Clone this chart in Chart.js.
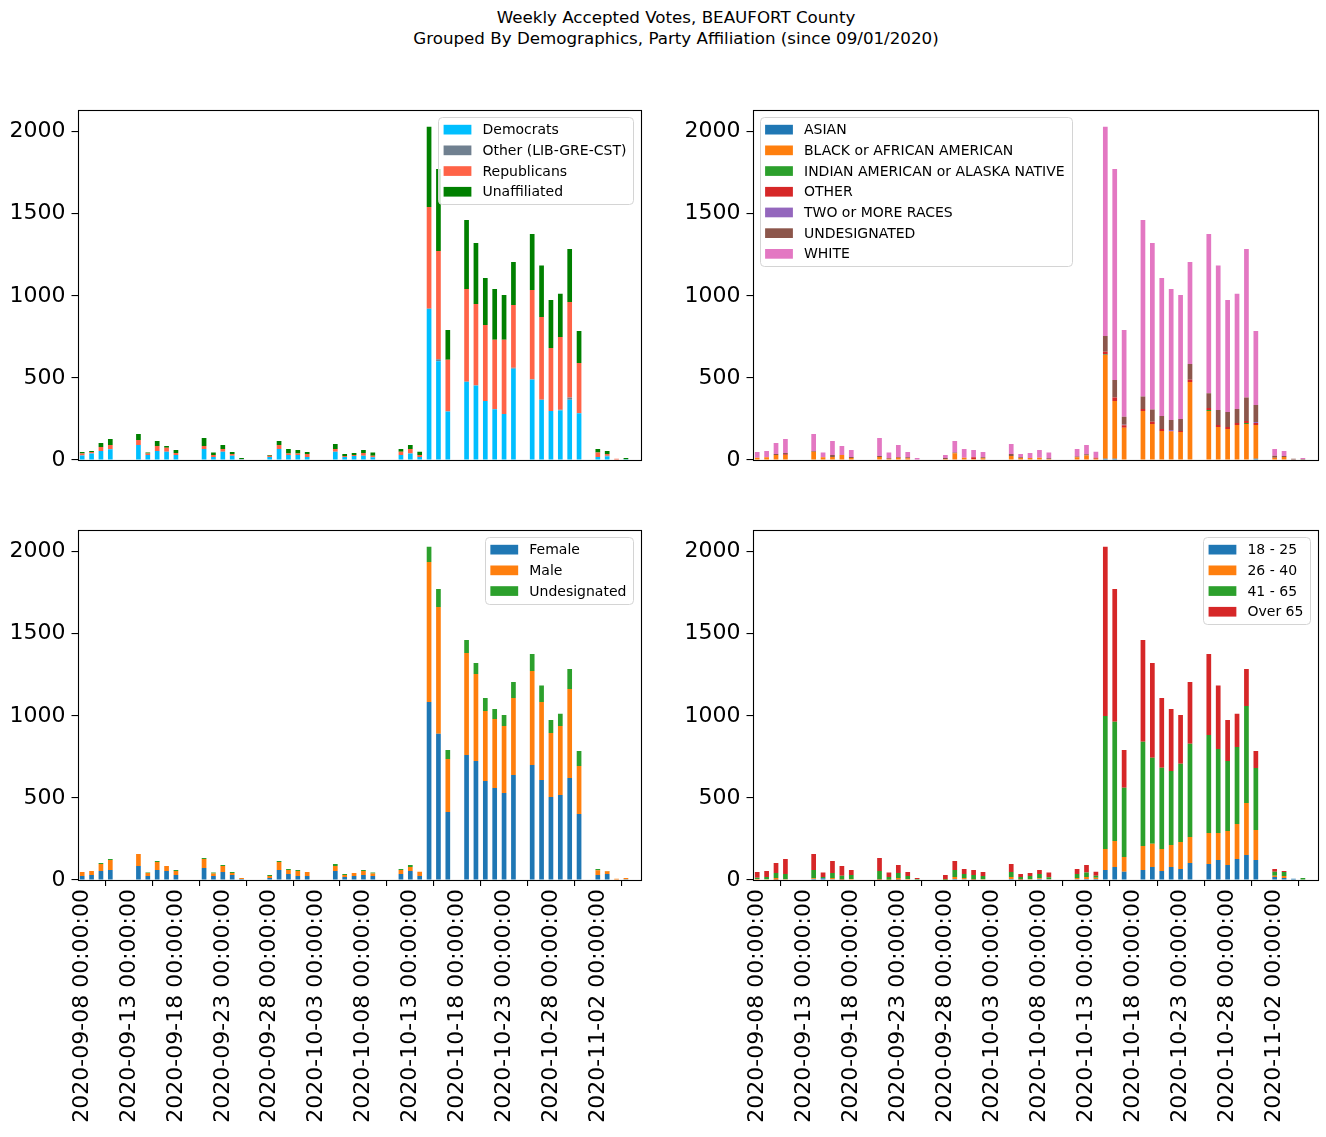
<!DOCTYPE html>
<html>
<head>
<meta charset="utf-8">
<script src="https://cdn.jsdelivr.net/npm/chart.js@4.4.1/dist/chart.umd.min.js"></script>
<style>
  body { margin: 0; background: #fff; }
  #page { position: relative; width: 1326px; height: 1137px; overflow: hidden; font-family: "DejaVu Sans", sans-serif; }
  #title { position: absolute; left: 13px; top: 7px; width: 1326px; text-align: center; font-size: 16.7px; line-height: 21px; color: #000; }
  canvas { position: absolute; }
</style>
</head>
<body>
<div id="page">
  <div id="title">Weekly Accepted Votes, BEAUFORT County<br>Grouped By Demographics, Party Affiliation (since 09/01/2020)</div>
  <canvas id="party" width="650" height="370" style="left:0;top:100px"></canvas>
  <canvas id="race" width="646" height="370" style="left:680px;top:100px"></canvas>
  <canvas id="gender" width="650" height="617" style="left:0;top:520px"></canvas>
  <canvas id="age" width="646" height="617" style="left:680px;top:520px"></canvas>
</div>
<script>
// one category per day, 09-08 .. 11-06
const days = [
  '2020-09-08','2020-09-09','2020-09-10','2020-09-11','2020-09-12','2020-09-13','2020-09-14','2020-09-15','2020-09-16','2020-09-17',
  '2020-09-18','2020-09-19','2020-09-20','2020-09-21','2020-09-22','2020-09-23','2020-09-24','2020-09-25','2020-09-26','2020-09-27',
  '2020-09-28','2020-09-29','2020-09-30','2020-10-01','2020-10-02','2020-10-03','2020-10-04','2020-10-05','2020-10-06','2020-10-07',
  '2020-10-08','2020-10-09','2020-10-10','2020-10-11','2020-10-12','2020-10-13','2020-10-14','2020-10-15','2020-10-16','2020-10-17',
  '2020-10-18','2020-10-19','2020-10-20','2020-10-21','2020-10-22','2020-10-23','2020-10-24','2020-10-25','2020-10-26','2020-10-27',
  '2020-10-28','2020-10-29','2020-10-30','2020-10-31','2020-11-01','2020-11-02','2020-11-03','2020-11-04','2020-11-05','2020-11-06'
];
const yTicks = [0, 500, 1000, 1500, 2000];

// ----- party -----
const democrats = [28,39,55,65,0,0,91,30,55,51, 30,0,0,67,18,51,26,4,0,0, 18,67,30,30,18,0,0,51,18,24,
  26,16,0,0,30,39,18,920,601,296, 0,477,453,359,309,280,556,0,491,367, 298,302,367,284,0,18,22,0,4,0];
const otherParty = [0,0,0,0,0,0,0,0,0,0, 0,0,0,0,0,0,0,0,0,0, 0,0,0,0,0,0,0,0,0,0,
  0,0,0,0,0,0,0,3,12,0, 0,0,0,0,0,0,6,0,0,0, 0,4,13,0,0,0,4,0,0,0];
const republicans = [11,10,24,26,0,0,31,9,30,24, 13,0,0,18,12,16,11,2,0,0, 8,24,9,9,19,0,0,16,6,6,
  17,10,0,0,21,28,12,618,660,315, 0,564,497,463,424,453,382,0,544,504, 384,443,582,307,0,27,11,8,0,0];
const unaffiliated = [10,6,25,37,0,0,36,6,31,10, 18,0,0,49,15,24,12,6,0,0, 4,25,28,22,12,0,0,30,13,13,
  18,19,0,0,16,24,21,489,499,181, 0,421,372,286,308,272,262,0,341,313, 292,264,323,195,0,22,18,0,8,0];

// ----- race -----
const asian = [0,0,0,0,0,0,0,0,0,0, 0,0,0,0,0,0,0,0,0,0, 0,0,0,0,0,0,0,0,0,0,
  0,0,0,0,0,0,0,8,8,0, 0,0,0,0,0,0,0,0,0,0, 0,0,0,8,0,0,0,0,0,0];
const black = [14,16,30,30,0,0,51,16,18,30, 12,0,0,18,8,14,10,0,0,0, 6,41,14,6,10,0,0,24,12,12,
  14,6,0,0,16,28,8,631,351,197, 0,298,219,177,173,171,475,0,298,201, 189,213,219,205,0,14,18,0,0,0];
const indianAm = [0,0,0,0,0,0,0,0,0,0, 0,0,0,0,0,0,0,0,0,0, 0,0,0,0,0,0,0,0,0,0,
  0,0,0,0,0,0,0,4,0,0, 0,0,0,0,0,0,0,0,6,0, 0,0,6,0,0,0,0,0,0,0];
const otherRace = [0,0,0,5,0,0,0,0,0,0, 0,0,0,0,0,0,0,0,0,0, 0,0,0,10,0,0,0,0,0,0,
  0,0,0,0,0,0,6,17,21,14, 0,13,14,12,4,6,14,0,12,12, 12,12,13,12,0,0,0,0,0,0];
const twoRaces = [0,0,0,0,0,0,0,0,0,0, 0,0,0,0,0,0,0,0,0,0, 0,0,0,0,0,0,0,0,0,0,
  0,0,0,0,0,0,0,0,0,4, 0,0,0,0,6,0,0,0,0,0, 0,0,0,6,0,0,0,0,0,0];
const undesRace = [0,0,7,8,0,0,4,0,12,0, 6,0,0,6,4,4,6,0,0,0, 6,4,0,0,6,0,0,13,4,0,
  0,4,0,0,6,7,0,95,107,49, 0,75,74,79,61,73,96,0,91,92, 91,86,142,104,0,12,6,8,6,0];
const white = [35,39,67,85,0,0,103,29,86,55, 43,0,0,110,33,73,33,12,0,0, 18,71,53,45,33,0,0,60,21,31,
  47,35,0,0,45,56,37,1275,1285,528, 0,1076,1015,840,797,755,621,0,969,879, 682,702,905,451,0,41,31,0,6,0];

// ----- gender -----
const female = [24,30,55,61,0,0,85,24,61,55, 30,0,0,73,24,49,30,6,0,0, 12,61,37,24,24,0,0,55,18,24,
  30,24,0,0,37,55,24,1084,891,414, 0,761,725,603,560,530,639,0,700,609, 505,518,621,402,0,30,37,0,4,0];
const male = [25,25,42,61,0,0,73,19,49,30, 25,0,0,55,15,36,13,6,0,0, 12,49,24,31,25,0,0,30,12,19,
  25,15,0,0,24,24,27,853,772,323, 0,621,530,426,420,408,469,0,573,475, 390,420,542,292,0,29,16,8,8,0];
const undesGender = [0,0,7,6,0,0,0,2,6,0, 6,0,0,6,6,6,6,0,0,0, 6,6,6,6,0,0,0,12,7,0,
  6,6,0,0,6,12,0,93,109,55, 0,80,67,79,61,67,98,0,103,100, 79,75,122,92,0,8,2,0,0,0];

// ----- age -----
const age18 = [0,0,2,0,0,0,6,10,4,2, 0,0,0,2,0,2,0,0,0,0, 0,6,4,2,0,0,0,6,2,0,
  6,4,0,0,4,6,6,61,79,51, 0,61,79,55,79,67,104,0,97,122, 91,128,152,122,0,18,12,8,0,0];
const age26 = [6,4,10,4,0,0,4,0,8,4, 6,0,0,4,2,10,6,0,0,0, 2,12,8,4,4,0,0,12,4,4,
  4,2,0,0,8,12,8,128,159,89, 0,146,142,134,134,164,158,0,189,164, 207,213,317,183,0,8,12,0,0,0];
const age41 = [8,14,31,33,0,0,51,8,31,20, 24,0,0,49,16,31,18,6,0,0, 4,43,25,24,20,0,0,31,12,20,
  27,10,0,0,25,27,12,810,726,422, 0,635,524,495,451,477,568,0,597,512, 427,469,591,377,0,25,25,0,12,0];
const age65 = [35,37,61,91,0,0,97,27,73,59, 31,0,0,79,27,48,25,6,0,0, 24,55,30,31,25,0,0,48,19,19,
  24,29,0,0,30,46,25,1031,808,230, 0,620,577,424,377,297,376,0,493,386, 249,203,225,104,0,16,6,0,0,0];

const tab = ['#1f77b4','#ff7f0e','#2ca02c','#d62728','#9467bd','#8c564b','#e377c2'];
const FONT = '"DejaVu Sans", sans-serif';

// box round the plot area, like matplotlib spines
const frame = {
  id: 'frame',
  afterDatasetsDraw(chart) {
    const a = chart.chartArea, ctx = chart.ctx;
    ctx.save();
    ctx.strokeStyle = '#000';
    ctx.lineWidth = 1.1;
    ctx.strokeRect(Math.round(a.left) + 0.5, Math.round(a.top) + 0.5,
      Math.round(a.right - a.left), Math.round(a.bottom - a.top));
    ctx.restore();
  }
};

// matplotlib style legend inside the axes
const boxLegend = {
  id: 'boxLegend',
  afterDraw(chart, args, opts) {
    const ctx = chart.ctx, a = chart.chartArea;
    const fs = 14, items = chart.data.datasets;
    ctx.save();
    ctx.font = fs + 'px ' + FONT;
    const tw = Math.max(...items.map(d => ctx.measureText(d.label).width));
    const pad = 5.6, hl = 27.8, htp = 11.1, first = 12.6, step = 20.7;
    const w = pad + hl + htp + tw + pad + 1;
    const h = first * 2 + (items.length - 1) * step;
    const x = opts.side === 'left' ? a.left + 7 : a.right - 7 - w;
    const y = a.top + 7;
    ctx.beginPath();
    ctx.roundRect(Math.round(x) + 0.5, Math.round(y) + 0.5, Math.round(w), Math.round(h), 4);
    ctx.fillStyle = 'rgba(255,255,255,0.8)';
    ctx.fill();
    ctx.strokeStyle = '#d4d4d4';
    ctx.lineWidth = 1;
    ctx.stroke();
    ctx.textBaseline = 'middle';
    items.forEach((d, i) => {
      const cy = y + first + i * step;
      ctx.fillStyle = d.backgroundColor;
      ctx.fillRect(x + pad, cy - 4.8, hl, 9.7);
      ctx.fillStyle = '#000';
      ctx.fillText(d.label, x + pad + hl + htp, cy + 1);
    });
    ctx.restore();
  }
};

function makeChart(id, series, opt) {
  const totals = days.map((_, i) => series.reduce((s, d) => s + d.data[i], 0));
  const ymax = Math.max(...totals) * 1.05;
  new Chart(document.getElementById(id), {
    type: 'bar',
    data: {
      labels: days,
      datasets: series.map(s => ({
        label: s.label, data: s.data, backgroundColor: s.color,
        barPercentage: 0.5, categoryPercentage: 1.0, borderWidth: 0
      }))
    },
    options: {
      responsive: false,
      animation: false,
      devicePixelRatio: 1,
      layout: { padding: { left: 0, right: opt.right, top: 10, bottom: opt.bottomAxis ? 0 : 10 } },
      plugins: { legend: { display: false }, tooltip: { enabled: false }, boxLegend: { side: opt.side } },
      scales: {
        x: {
          stacked: true,
          display: opt.bottomAxis,
          afterFit(scale) { scale.height = opt.bottomAxis ? 257 : 0; },
          border: { display: false },
          grid: { drawOnChartArea: false, drawTicks: true, tickLength: 6, color: '#000', lineWidth: 1.1 },
          ticks: {
            autoSkip: false, minRotation: 90, maxRotation: 90, padding: 3,
            color: '#000', font: { family: FONT, size: 22 },
            callback(v, i) { return i % 5 === 0 ? days[i] + ' 00:00:00' : null; }
          }
        },
        y: {
          stacked: true,
          min: 0,
          max: ymax,
          afterFit(scale) {
            scale.width = opt.yWidth;
            scale.paddingTop = 0;
            scale.paddingBottom = 0;
          },
          afterBuildTicks(scale) { scale.ticks = yTicks.map(v => ({ value: v })); },
          border: { display: false },
          grid: { drawOnChartArea: false, drawTicks: true, tickLength: 6, color: '#000', lineWidth: 1.1 },
          ticks: {
            color: '#000', padding: 6, font: { family: FONT, size: 22 },
            callback(v) { return String(v); }
          }
        }
      }
    },
    plugins: [frame, boxLegend]
  });
}

makeChart('party', [
  { label: 'Democrats', data: democrats, color: '#00bfff' },
  { label: 'Other (LIB-GRE-CST)', data: otherParty, color: '#708090' },
  { label: 'Republicans', data: republicans, color: '#ff6347' },
  { label: 'Unaffiliated', data: unaffiliated, color: '#008000' }
], { side: 'right', yWidth: 77.5, right: 10, bottomAxis: false });

makeChart('race', [
  { label: 'ASIAN', data: asian, color: tab[0] },
  { label: 'BLACK or AFRICAN AMERICAN', data: black, color: tab[1] },
  { label: 'INDIAN AMERICAN or ALASKA NATIVE', data: indianAm, color: tab[2] },
  { label: 'OTHER', data: otherRace, color: tab[3] },
  { label: 'TWO or MORE RACES', data: twoRaces, color: tab[4] },
  { label: 'UNDESIGNATED', data: undesRace, color: tab[5] },
  { label: 'WHITE', data: white, color: tab[6] }
], { side: 'left', yWidth: 72.5, right: 9, bottomAxis: false });

makeChart('gender', [
  { label: 'Female', data: female, color: tab[0] },
  { label: 'Male', data: male, color: tab[1] },
  { label: 'Undesignated', data: undesGender, color: tab[2] }
], { side: 'right', yWidth: 77.5, right: 10, bottomAxis: true });

makeChart('age', [
  { label: '18 - 25', data: age18, color: tab[0] },
  { label: '26 - 40', data: age26, color: tab[1] },
  { label: '41 - 65', data: age41, color: tab[2] },
  { label: 'Over 65', data: age65, color: tab[3] }
], { side: 'right', yWidth: 72.5, right: 9, bottomAxis: true });
</script>
</body>
</html>
